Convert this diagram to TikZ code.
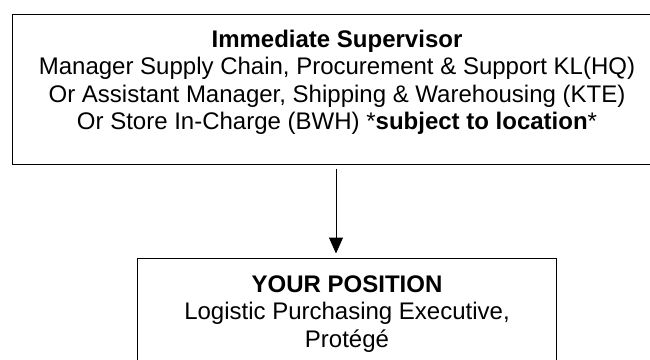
\documentclass[tikz,border=0pt]{standalone}
\usepackage{fontspec}
\setmainfont{Liberation Sans}
\usetikzlibrary{arrows.meta}
\begin{document}
\begin{tikzpicture}[x=1pt,y=-1pt,
  boxstyle/.style={draw=black, line width=1pt, rectangle, inner sep=0pt},
  txt/.style={align=center, inner sep=0pt, anchor=base, font=\fontsize{24}{27.6}\selectfont},
  conn/.style={line width=1pt, -{Triangle[length=16pt,width=14pt]}, shorten <=4pt, shorten >=4pt}]
\useasboundingbox (0,0) rectangle (650,359);
\clip (0,0) rectangle (650,359);
\node[boxstyle, minimum width=650pt, minimum height=150pt] (sup) at (337,89) {};
\node[txt] (suptext) at (337,129.8) {\textbf{Immediate Supervisor}\\
  Manager Supply Chain, Procurement \& Support KL(HQ)\\
  Or Assistant Manager, Shipping \& Warehousing (KTE)\\
  Or Store In-Charge (BWH) *\textbf{subject to location}*};
\node[boxstyle, minimum width=419pt, minimum height=142pt] (pos) at (346.5,329) {};
\node[txt] (postext) at (347,347.2) {\textbf{YOUR POSITION}\\
  Logistic Purchasing Executive,\\
  Protégé};
\coordinate (ax) at (336,0);
\draw[conn] (sup.south -| ax) -- (pos.north -| ax);
\end{tikzpicture}
\end{document}
